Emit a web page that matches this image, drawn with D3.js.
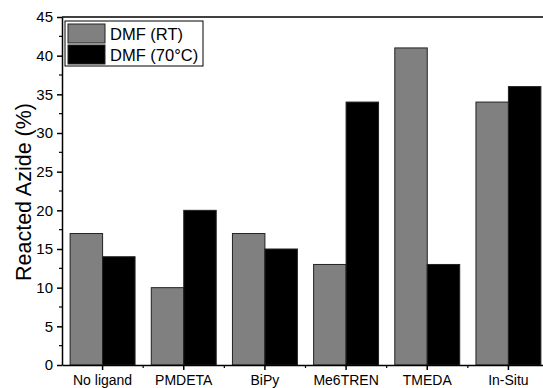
<!DOCTYPE html>
<html>
<head>
<meta charset="utf-8">
<script src="https://cdn.jsdelivr.net/npm/d3@7"></script>
<style>
  body { margin: 0; background: #fff; }
  svg { display: block; font-family: Arial, "Liberation Sans", sans-serif; }
</style>
</head>
<body>
<div id="chart"></div>
<script>
const categories = ["No ligand", "PMDETA", "BiPy", "Me6TREN", "TMEDA", "In-Situ"];
const seriesNames = ["DMF (RT)", "DMF (70°C)"];
const rtValues = [17, 10, 17, 13, 41, 34];
const hotValues = [14, 20, 15, 34, 13, 36];
const yTicks = [0, 5, 10, 15, 20, 25, 30, 35, 40, 45];
const colors = ["#808080", "#000000"];

const W = 543, H = 388;
const margin = { top: 17, right: -6, bottom: 23, left: 62 };
const width = W - margin.left - margin.right;
const height = H - margin.top - margin.bottom;

const svg = d3.select("#chart").append("svg")
  .attr("width", W)
  .attr("height", H);

const g = svg.append("g")
  .attr("transform", `translate(${margin.left},${margin.top})`);

const x = d3.scaleBand()
  .domain(categories)
  .range([0, width])
  .padding(0);

const xInner = d3.scaleBand()
  .domain(seriesNames)
  .range([x.bandwidth() * 0.1, x.bandwidth() * 0.9])
  .padding(0);

const y = d3.scaleLinear()
  .domain([0, 45])
  .range([height, 0]);

// Bars
const data = categories.map((c, i) => ({ cat: c, vals: [rtValues[i], hotValues[i]] }));

const groups = g.selectAll(".grp")
  .data(data)
  .enter().append("g")
  .attr("transform", d => `translate(${x(d.cat)},0)`);

groups.selectAll("rect")
  .data(d => d.vals.map((v, j) => ({ name: seriesNames[j], v, j })))
  .enter().append("rect")
  .attr("x", d => xInner(d.name))
  .attr("y", d => y(d.v))
  .attr("width", xInner.bandwidth())
  .attr("height", d => height - y(d.v))
  .attr("fill", d => colors[d.j])
  .attr("stroke", "#222")
  .attr("stroke-width", 1);

// Top frame line
g.append("line")
  .attr("x1", 0).attr("x2", W)
  .attr("y1", 0).attr("y2", 0)
  .attr("stroke", "#000").attr("stroke-width", 1.5);

// Y axis
const yAxis = g.append("g")
  .call(d3.axisLeft(y).tickValues(yTicks).tickSize(5).tickSizeOuter(0).tickPadding(4));
yAxis.select(".domain").attr("stroke-width", 1.5);
yAxis.selectAll(".tick line").attr("stroke-width", 1.5);
yAxis.selectAll("text").attr("font-size", 15).attr("fill", "#000");

const yMinor = d3.range(2.5, 45, 5);
g.append("g").selectAll("line")
  .data(yMinor)
  .enter().append("line")
  .attr("x1", -3).attr("x2", 0)
  .attr("y1", d => y(d)).attr("y2", d => y(d))
  .attr("stroke", "#000").attr("stroke-width", 1.2);

// X axis
const xAxis = g.append("g")
  .attr("transform", `translate(0,${height})`)
  .call(d3.axisBottom(x).tickSize(5).tickSizeOuter(0).tickPadding(5));
xAxis.select(".domain").attr("stroke-width", 1.5);
xAxis.selectAll(".tick line").attr("stroke-width", 1.5);
xAxis.selectAll("text").attr("font-size", 14).attr("fill", "#000");

g.append("g").selectAll("line")
  .data(categories.slice(1))
  .enter().append("line")
  .attr("x1", d => x(d)).attr("x2", d => x(d))
  .attr("y1", height).attr("y2", height + 3)
  .attr("stroke", "#000").attr("stroke-width", 1.2);

// Y label
svg.append("text")
  .attr("transform", `translate(31,${margin.top + height / 2 + 1}) rotate(-90)`)
  .attr("text-anchor", "middle")
  .attr("font-size", 21.5)
  .text("Reacted Azide (%)");

// Legend
const legend = g.append("g").attr("transform", "translate(3,4)");
legend.append("rect")
  .attr("width", 138).attr("height", 45)
  .attr("fill", "#fff").attr("stroke", "#000").attr("stroke-width", 1);

seriesNames.forEach((name, i) => {
  legend.append("rect")
    .attr("x", 3).attr("y", 3 + i * 21)
    .attr("width", 37).attr("height", 19)
    .attr("fill", colors[i]).attr("stroke", "#222").attr("stroke-width", 1);
  legend.append("text")
    .attr("x", 45).attr("y", 18.5 + i * 21)
    .attr("font-size", 16.5)
    .text(name);
});
</script>
</body>
</html>
